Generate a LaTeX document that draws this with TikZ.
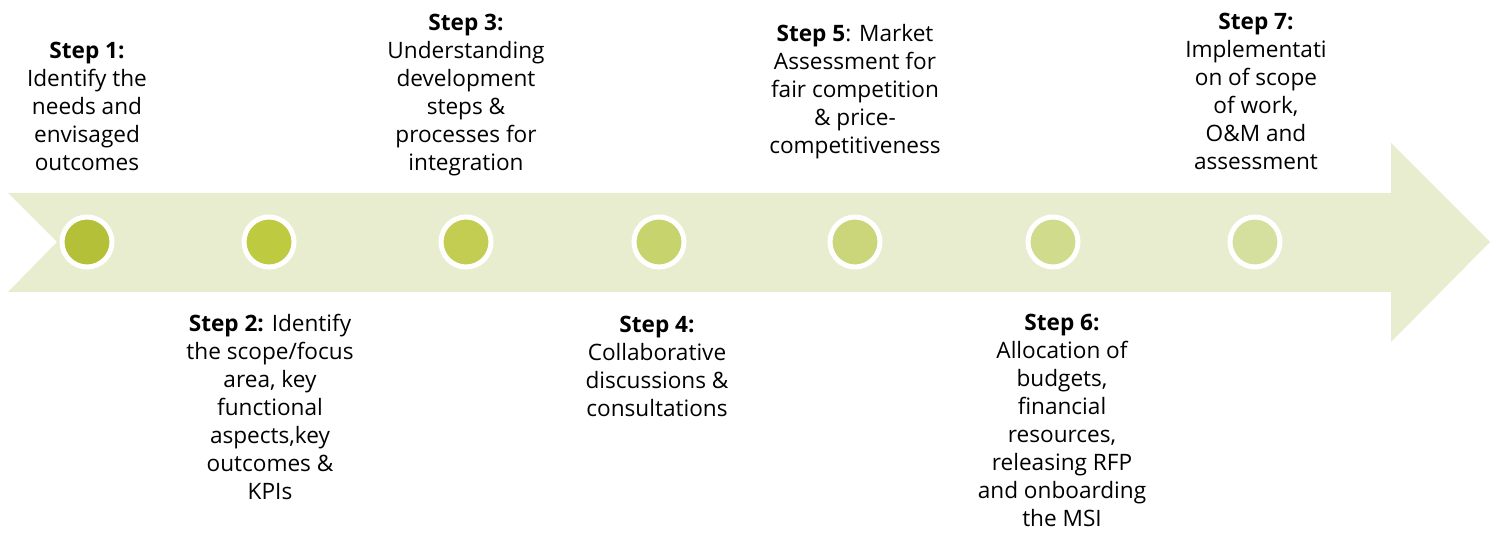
\documentclass[tikz,border=0pt]{standalone}
\usepackage{fontspec}
\setmainfont{Open Sans}
\definecolor{bandgreen}{RGB}{232,237,207}
\definecolor{dotA}{RGB}{180,192,56}
\definecolor{dotB}{RGB}{190,202,64}
\definecolor{dotC}{RGB}{194,205,82}
\definecolor{dotD}{RGB}{199,211,108}
\definecolor{dotE}{RGB}{203,214,122}
\definecolor{dotF}{RGB}{209,219,140}
\definecolor{dotG}{RGB}{214,224,158}
\tikzset{
  stepdot/.style={circle, draw=white, line width=2.5pt, minimum size=25pt, inner sep=0pt},
  steptext/.style={anchor=north, align=center, inner sep=0pt, font=\fontsize{11.3}{14}\selectfont}
}
\begin{document}
\begin{tikzpicture}[x=0.5pt, y=-0.5pt]
\useasboundingbox (0,0) rectangle (1496,533);
% Fleche de fond
\fill[bandgreen] (8,193) -- (1391,193) -- (1391,143) -- (1490,242) -- (1391,342)
  -- (1391,292) -- (8,292) -- (57,242) -- cycle;
% Points des etapes
\node[stepdot, fill=dotA] (dot1) at (87,242) {};
\node[stepdot, fill=dotB] (dot2) at (269,242) {};
\node[stepdot, fill=dotC] (dot3) at (466,242) {};
\node[stepdot, fill=dotD] (dot4) at (659,242) {};
\node[stepdot, fill=dotE] (dot5) at (855,242) {};
\node[stepdot, fill=dotF] (dot6) at (1053,242) {};
\node[stepdot, fill=dotG] (dot7) at (1255,242) {};
% Textes au-dessus
\node[steptext] (txt1) at (87,42) {\textbf{Step 1:}\\Identify the\\needs and\\envisaged\\outcomes};
\node[steptext] (txt3) at (466,14) {\textbf{Step 3:}\\Understanding\\development\\steps \&\\processes for\\integration};
\node[steptext] (txt5) at (855,24) {\textbf{Step 5}: Market\\Assessment for\\fair competition\\\& price-\\competitiveness};
\node[steptext] (txt7) at (1256,13) {\textbf{Step 7:}\\Implementati\\on of scope\\of work,\\O\&M and\\assessment};
% Textes en dessous
\node[steptext] (txt2) at (270,314) {\textbf{Step 2:} Identify\\the scope/focus\\area, key\\functional\\aspects,key\\outcomes \&\\KPIs};
\node[steptext] (txt4) at (657,316) {\textbf{Step 4:}\\Collaborative\\discussions \&\\consultations};
\node[steptext] (txt6) at (1062,314) {\textbf{Step 6:}\\Allocation of\\budgets,\\financial\\resources,\\releasing RFP\\and onboarding\\the MSI};
\end{tikzpicture}
\end{document}
